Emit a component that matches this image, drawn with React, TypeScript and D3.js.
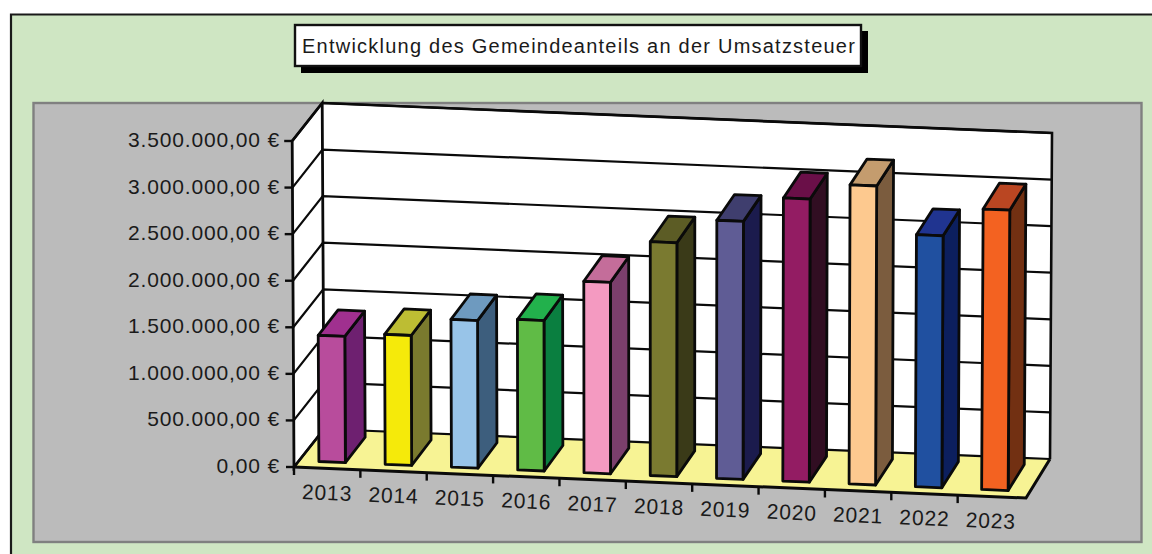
import React from 'react';
import * as d3 from 'd3';

const WIDTH = 1152;
const HEIGHT = 554;

const YEARS = ['2013', '2014', '2015', '2016', '2017', '2018', '2019', '2020', '2021', '2022', '2023'];
const VALUES = [1355000, 1395000, 1585000, 1615000, 2055000, 2510000, 2770000, 3040000, 3210000, 2705000, 3010000];
const FRONT_COLORS = ['#b84c9c', '#f5ea0a', '#98c4e8', '#60bb46', '#f49ac1', '#7a7a30', '#5f5c95', '#931c63', '#fdc98f', '#2050a0', '#f36221'];
const TOP_COLORS = ['#a0308f', '#bdbd33', '#6e9abf', '#22b14c', '#c46d9a', '#5c5c25', '#3f3e6e', '#6a0f48', '#c49c6e', '#203490', '#ba4622'];
const SIDE_COLORS = ['#6e2070', '#7a7a2e', '#3d5e7d', '#0a7f40', '#7b3f6c', '#3a3a18', '#1b1b4d', '#310e22', '#7b5c3e', '#0c1f5e', '#723012'];
const TITLE = 'Entwicklung des Gemeindeanteils an der Umsatzsteuer';

const FONT = '"Liberation Sans", Arial, sans-serif';

// floor corners of the fake 3d box
const FL = [294, 467];
const FR = [1026, 498];
const BL = [324, 429];
const BR = [1050, 459];

const y = d3.scaleLinear().domain([0, 3500000]).range([0, 326]);
const band = d3.scaleBand().domain(YEARS).range([0, 0.9973]).paddingInner(0.6).paddingOuter(0.3);
const slot = d3.scaleBand().domain(YEARS).range([0, 0.9973]);

const locale = d3.formatLocale({ decimal: ',', thousands: '.', grouping: [3], currency: ['', ' €'] });
const euro = locale.format('$,.2f');

// u along the front edge, d into the depth, v the value
function project(u: number, d: number, v: number): [number, number] {
  const fx = FL[0] + (FR[0] - FL[0]) * u;
  const fy = FL[1] + (FR[1] - FL[1]) * u;
  const bx = BL[0] + (BR[0] - BL[0]) * u;
  const by = BL[1] + (BR[1] - BL[1]) * u;
  const h = y(v);
  const lean = (h / 326) * (-1.8 + 3.8 * u);
  return [fx + (bx - fx) * d + lean, fy + (by - fy) * d - h];
}

const line = d3.line();
const poly = (pts: [number, number][]) => line(pts) + 'Z';

const DEPTH_A = 1 / 6;
const DEPTH_B = 5 / 6;
const TICKS = y.ticks(7);

function Bar({ year, index }: { year: string; index: number }) {
  const u0 = band(year) as number;
  const u1 = u0 + band.bandwidth();
  const v = VALUES[index];
  const front = poly([project(u0, DEPTH_A, 0), project(u1, DEPTH_A, 0), project(u1, DEPTH_A, v), project(u0, DEPTH_A, v)]);
  const side = poly([project(u1, DEPTH_A, 0), project(u1, DEPTH_B, 0), project(u1, DEPTH_B, v), project(u1, DEPTH_A, v)]);
  const top = poly([project(u0, DEPTH_A, v), project(u1, DEPTH_A, v), project(u1, DEPTH_B, v), project(u0, DEPTH_B, v)]);
  return (
    <g stroke="#0a0a0a" strokeWidth={2.8} strokeLinejoin="round">
      <path d={side} fill={SIDE_COLORS[index]} />
      <path d={top} fill={TOP_COLORS[index]} />
      <path d={front} fill={FRONT_COLORS[index]} />
    </g>
  );
}

export default function App() {
  const maxV = y.domain()[1];
  const floor = poly([project(0, 0, 0), project(1, 0, 0), project(1, 1, 0), project(0, 1, 0)]);
  const leftWall = poly([project(0, 0, 0), project(0, 1, 0), project(0, 1, maxV), project(0, 0, maxV)]);
  const backWall = poly([project(0, 1, 0), project(1, 1, 0), project(1, 1, maxV), project(0, 1, maxV)]);
  const boundaries = YEARS.map((yr) => slot(yr) as number);
  const labelAngle = (Math.atan2(FR[1] - FL[1], FR[0] - FL[0]) * 180) / Math.PI;

  return (
    <svg width={WIDTH} height={HEIGHT} style={{ position: 'absolute', left: 0, top: 0 }}>
      <rect width={WIDTH} height={HEIGHT} fill="#ffffff" />
      <path d="M11,560V14.5H1160V560Z" fill="#cfe6c3" stroke="#1a1a1a" strokeWidth={2.2} />

      <rect x={33.5} y={103} width={1108} height={439} fill="#bbbbbb" stroke="#808080" strokeWidth={2.4} />

      <rect x={301} y={31} width={567} height={42} fill="#000000" />
      <rect x={295} y={25} width={566} height={41} fill="#ffffff" stroke="#111111" strokeWidth={2.4} />
      <text x={302} y={53} fontFamily={FONT} fontSize={20} letterSpacing={1.23} fill="#1a1a1a">{TITLE}</text>

      <path d={backWall} fill="#ffffff" />
      <path d={leftWall} fill="#ffffff" />
      <path d={floor} fill="#f7f394" />

      {TICKS.map((t) => {
        const [ax, ay] = project(0, 0, t);
        const [bx, by] = project(0, 1, t);
        const [cx, cy] = project(1, 1, t);
        return (
          <g key={t}>
            <path d={line([[ax - 8, ay], [ax, ay]]) as string} stroke="#0a0a0a" strokeWidth={2.4} />
            <path d={line([[ax, ay], [bx, by], [cx, cy]]) as string} fill="none" stroke="#0a0a0a" strokeWidth={2.2} />
            <text x={280} y={ay - 1.5} dy="0.36em" textAnchor="end" fontFamily={FONT} fontSize={21} letterSpacing={0.85} fill="#1a1a1a">{euro(t)}</text>
          </g>
        );
      })}

      <path d={poly([project(0, 0, 0), project(0, 1, 0), project(0, 1, maxV), project(0, 0, maxV)])} fill="none" stroke="#0a0a0a" strokeWidth={2.8} />
      <path d={line([project(0, 1, maxV), project(1, 1, maxV), project(1, 1, 0)]) as string} fill="none" stroke="#0a0a0a" strokeWidth={2.6} />
      <path d={line([project(0, 0, 0), project(1, 0, 0), project(1, 1, 0)]) as string} fill="none" stroke="#0a0a0a" strokeWidth={3} />

      {boundaries.map((u) => {
        const [tx, ty] = project(u, 0, 0);
        return <path key={u} d={line([[tx, ty], [tx, ty + 8]]) as string} stroke="#0a0a0a" strokeWidth={2.4} />;
      })}

      {YEARS.map((yr) => {
        const [lx, ly] = project((slot(yr) as number) + slot.bandwidth() / 2, 0, 0);
        return (
          <text
            key={yr}
            transform={`translate(${lx},${ly + 24}) rotate(${labelAngle})`}
            dy="0.36em"
            textAnchor="middle"
            fontFamily={FONT}
            fontSize={21}
            letterSpacing={0.85}
            fill="#1a1a1a"
          >
            {yr}
          </text>
        );
      })}

      {YEARS.map((yr, i) => <Bar key={yr} year={yr} index={i} />)}
    </svg>
  );
}
